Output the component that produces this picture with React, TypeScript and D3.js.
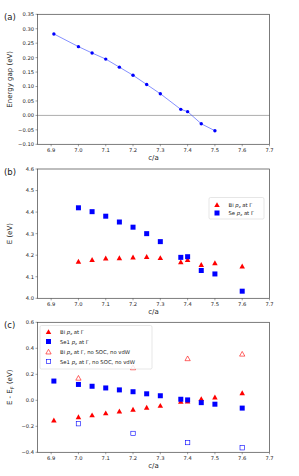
import React from 'react';
import * as d3 from 'd3';

// panel (a): energy gap vs c/a
const gapX = [6.91, 7.0, 7.05, 7.1, 7.15, 7.2, 7.25, 7.3, 7.375, 7.4, 7.45, 7.5];
const gapY = [0.282, 0.238, 0.216, 0.195, 0.167, 0.139, 0.107, 0.075, 0.021, 0.013, -0.029, -0.053];

// panel (b): band energies at Gamma
const bX = [7.0, 7.05, 7.1, 7.15, 7.2, 7.25, 7.3, 7.375, 7.4, 7.45, 7.5, 7.6];
const bBi = [4.17, 4.178, 4.185, 4.186, 4.19, 4.192, 4.187, 4.168, 4.178, 4.155, 4.163, 4.148];
const bSe = [4.42, 4.402, 4.381, 4.354, 4.33, 4.30, 4.263, 4.19, 4.193, 4.129, 4.113, 4.033];

// panel (c): relative to Fermi level
const cX = [6.91, 7.0, 7.05, 7.1, 7.15, 7.2, 7.25, 7.3, 7.375, 7.4, 7.45, 7.5, 7.6];
const cBi = [-0.155, -0.13, -0.115, -0.1, -0.085, -0.072, -0.057, -0.042, -0.01, -0.008, 0.01, 0.022, 0.055];
const cSe = [0.148, 0.122, 0.108, 0.095, 0.08, 0.066, 0.05, 0.035, 0.008, 0.003, -0.018, -0.03, -0.06];
const cOpenX = [7.0, 7.2, 7.4, 7.6];
const cBiOpen = [0.17, 0.25, 0.32, 0.355];
const cSeOpen = [-0.18, -0.255, -0.325, -0.365];

const xTicks = [6.9, 7.0, 7.1, 7.2, 7.3, 7.4, 7.5, 7.6, 7.7];
const gapTicks = [-0.1, -0.05, 0, 0.05, 0.1, 0.15, 0.2, 0.25, 0.3, 0.35];
const bTicks = [4.0, 4.1, 4.2, 4.3, 4.4, 4.5, 4.6];
const cTicks = [-0.4, -0.2, 0, 0.2, 0.4, 0.6];

const FONT = 'DejaVu Sans, sans-serif';
const RED = '#ff0000';
const BLUE = '#0000ff';
const left = 37.5;
const right = 269.5;
const LF = 5.3; // legend font

const x = d3.scaleLinear().domain([6.85, 7.7]).range([left, right]);

const tri = (cx: number, cy: number, s: number) =>
  `M${cx},${cy - s * 0.62}L${cx + s * 0.6},${cy + s * 0.45}L${cx - s * 0.6},${cy + s * 0.45}Z`;

function Frame({ y, ticks, fmt, top, bottom, label, ylabel }: any) {
  return (
    <g>
      <rect x={left} y={top} width={right - left} height={bottom - top} fill="none" stroke="#444" strokeWidth={0.7} />
      {xTicks.map(t => (
        <g key={'x' + t}>
          <line x1={x(t)} x2={x(t)} y1={bottom} y2={bottom + 2} stroke="#444" strokeWidth={0.5} />
          <text x={x(t)} y={bottom + 8} fontSize={5.2} textAnchor="middle" fontFamily={FONT} fill="#222">{t.toFixed(1)}</text>
        </g>
      ))}
      {ticks.map((t: number) => (
        <g key={'y' + t}>
          <line x1={left - 2} x2={left} y1={y(t)} y2={y(t)} stroke="#444" strokeWidth={0.5} />
          <text x={left - 3.5} y={y(t) + 1.9} fontSize={5.2} textAnchor="end" fontFamily={FONT} fill="#222">{fmt(t)}</text>
        </g>
      ))}
      <text x={x(7.275)} y={bottom + 16} fontSize={7} textAnchor="middle" fontFamily={FONT} fill="#222">c/a</text>
      <text x={4} y={top + 5.5} fontSize={8.5} fontFamily={FONT} fill="#222">{label}</text>
      <text transform={`translate(12,${(top + bottom) / 2}) rotate(-90)`} fontSize={7} textAnchor="middle" fontFamily={FONT} fill="#222">{ylabel}</text>
    </g>
  );
}

const pz = (
  <>
    <tspan fontStyle="italic">p</tspan>
    <tspan fontSize={3.8} dy={1}>z</tspan>
    <tspan dy={-1}> </tspan>
  </>
);

export default function App() {
  const yA = d3.scaleLinear().domain([-0.1, 0.35]).range([144.3, 14.3]);
  const yB = d3.scaleLinear().domain([4.0, 4.6]).range([298.3, 169]);
  const yC = d3.scaleLinear().domain([-0.4, 0.6]).range([452.3, 322.3]);
  const line = d3.line<number>().x((_, i) => x(gapX[i])).y(d => yA(d));
  const f2 = (v: number) => d3.format('.2f')(v).replace('-', '\u2212');
  const f1 = (v: number) => d3.format('.1f')(v).replace('-', '\u2212');

  return (
    <svg width={299} height={476} style={{ position: 'absolute', left: 0, top: 0, background: '#fff' }}>
      {/* (a) */}
      <line x1={left} x2={right} y1={yA(0)} y2={yA(0)} stroke="#777" strokeWidth={0.6} />
      <path d={line(gapY) || ''} fill="none" stroke="#3344ff" strokeWidth={0.6} />
      {gapY.map((v, i) => (
        <circle key={i} cx={x(gapX[i])} cy={yA(v)} r={1.7} fill={BLUE} />
      ))}
      <Frame y={yA} ticks={gapTicks} fmt={f2} top={14.3} bottom={144.3} label="(a)" ylabel="Energy gap (eV)" />

      {/* (b) */}
      {bBi.map((v, i) => (
        <path key={'bb' + i} d={tri(x(bX[i]), yB(v), 4.6)} fill={RED} />
      ))}
      {bSe.map((v, i) => (
        <rect key={'bs' + i} x={x(bX[i]) - 2.5} y={yB(v) - 2.5} width={5} height={5} fill={BLUE} />
      ))}
      <Frame y={yB} ticks={bTicks} fmt={f1} top={169} bottom={298.3} label="(b)" ylabel="E (eV)" />
      <g fontFamily={FONT} fontSize={LF} fill="#222">
        <rect x={209} y={197.5} width={55} height={21.5} rx={1.5} fill="#fff" fillOpacity={0.85} stroke="#ccc" strokeWidth={0.5} />
        <path d={tri(217, 205, 4.6)} fill={RED} />
        <text x={228.5} y={206.8}>Bi {pz}at Γ</text>
        <rect x={214.5} y={210.5} width={5} height={5} fill={BLUE} />
        <text x={228.5} y={215}>Se {pz} at Γ</text>
      </g>

      {/* (c) */}
      {cBi.map((v, i) => (
        <path key={'cb' + i} d={tri(x(cX[i]), yC(v), 4.6)} fill={RED} />
      ))}
      {cSe.map((v, i) => (
        <rect key={'cs' + i} x={x(cX[i]) - 2.5} y={yC(v) - 2.5} width={5} height={5} fill={BLUE} />
      ))}
      {cBiOpen.map((v, i) => (
        <path key={'cbo' + i} d={tri(x(cOpenX[i]), yC(v), 4.4)} fill="none" stroke={RED} strokeWidth={0.6} />
      ))}
      {cSeOpen.map((v, i) => (
        <rect key={'cso' + i} x={x(cOpenX[i]) - 2.2} y={yC(v) - 2.2} width={4.4} height={4.4} fill="none" stroke={BLUE} strokeWidth={0.6} />
      ))}
      <Frame y={yC} ticks={cTicks} fmt={f1} top={322.3} bottom={452.3} label="(c)"
        ylabel={<>E - E<tspan fontSize={5} dy={1.5}>F</tspan><tspan dy={-1.5}> (eV)</tspan></>} />
      <g fontFamily={FONT} fontSize={LF} fill="#222">
        <rect x={40} y={325.5} width={112} height={43.5} rx={1.5} fill="#fff" fillOpacity={0.85} stroke="#ccc" strokeWidth={0.5} />
        <path d={tri(48.5, 332, 4.6)} fill={RED} />
        <text x={60} y={333.8}>Bi {pz}at Γ</text>
        <rect x={46} y={339} width={5} height={5} fill={BLUE} />
        <text x={60} y={343.6}>Se1 {pz}at Γ</text>
        <path d={tri(48.5, 352, 4.4)} fill="none" stroke={RED} strokeWidth={0.6} />
        <text x={60} y={353.6}>Bi {pz}at Γ, no SOC, no vdW</text>
        <rect x={46.3} y={359.3} width={4.4} height={4.4} fill="none" stroke={BLUE} strokeWidth={0.6} />
        <text x={60} y={363.6}>Se1 {pz}at Γ, no SOC, no vdW</text>
      </g>
    </svg>
  );
}
